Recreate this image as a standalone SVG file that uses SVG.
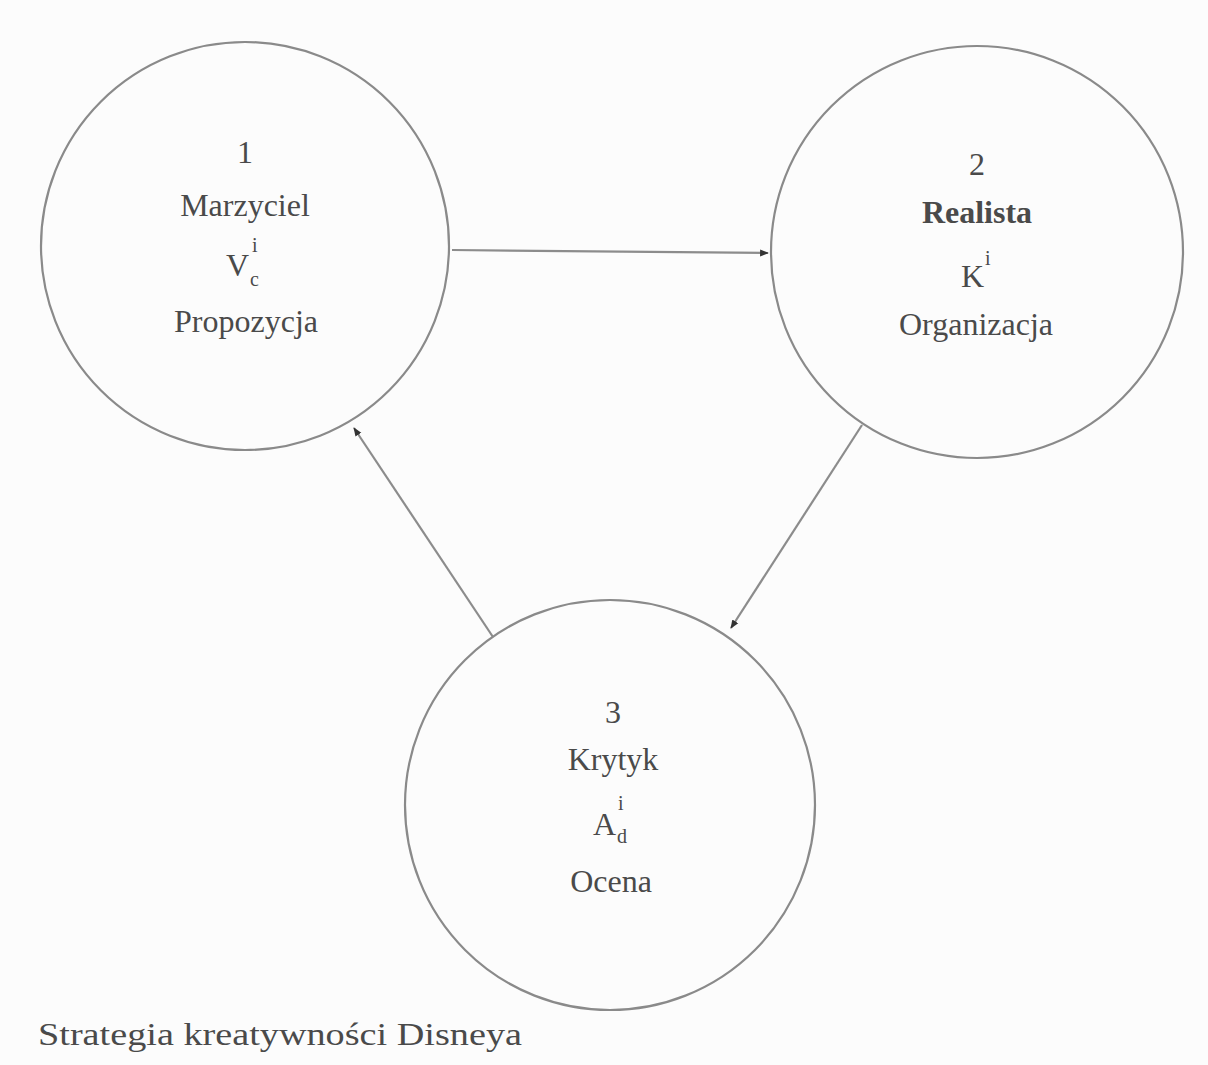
<svg xmlns="http://www.w3.org/2000/svg" width="1208" height="1065" viewBox="0 0 1208 1065">
<style>
.node circle{fill:none;stroke:#8a8a8a;stroke-width:2.2}
text{font-family:"Liberation Serif","Times New Roman",serif;fill:#4a4a4a;font-size:32px}
.m{text-anchor:middle}
.s{font-size:20px}
.conn line{stroke:#8c8c8c;stroke-width:2.2;fill:none}
</style>
<defs>
<marker id="ah" viewBox="0 0 10 10" refX="9" refY="5" markerWidth="4" markerHeight="4" orient="auto" markerUnits="strokeWidth">
<path d="M0,1 L10,5 L0,9 Z" fill="#333"/>
</marker>
</defs>
<rect width="1208" height="1065" fill="#fcfcfc"/>
<g id="connectors" class="conn">
<line x1="452" y1="250" x2="768" y2="253" marker-end="url(#ah)"/>
<line x1="862" y1="425" x2="731" y2="628" marker-end="url(#ah)"/>
<line x1="493" y1="637" x2="354" y2="428" marker-end="url(#ah)"/>
</g>
<g id="node-1" class="node">
<circle cx="245" cy="246" r="204"/>
<text class="m" x="245" y="163">1</text>
<text class="m" x="245" y="216">Marzyciel</text>
<text x="226" y="276">V</text>
<text class="s" x="252" y="252">i</text>
<text class="s" x="250" y="286">c</text>
<text class="m" x="246" y="332">Propozycja</text>
</g>
<g id="node-2" class="node">
<circle cx="977" cy="252" r="206"/>
<text class="m" x="977" y="175">2</text>
<text class="m" x="977" y="223" font-weight="bold">Realista</text>
<text x="961" y="287">K</text>
<text class="s" x="985" y="265">i</text>
<text class="m" x="976" y="335">Organizacja</text>
</g>
<g id="node-3" class="node">
<circle cx="610" cy="805" r="205"/>
<text class="m" x="613" y="723">3</text>
<text class="m" x="613" y="770">Krytyk</text>
<text x="593" y="835">A</text>
<text class="s" x="618" y="810">i</text>
<text class="s" x="617" y="843">d</text>
<text class="m" x="611" y="892">Ocena</text>
</g>
<text x="38" y="1045" font-size="35" textLength="484" lengthAdjust="spacingAndGlyphs">Strategia kreatywności Disneya</text>
</svg>
